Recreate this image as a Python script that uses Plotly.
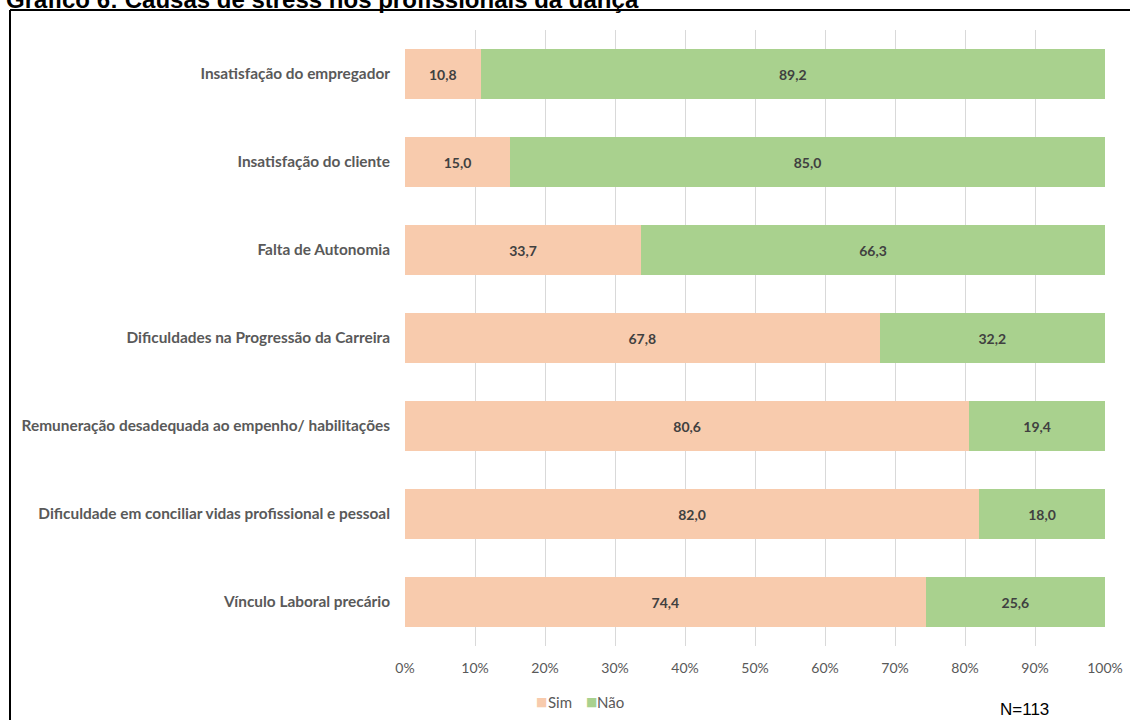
import plotly.graph_objects as go

# Causes of stress among dance professionals (% of respondents, N=113)
categorias = [
    "Insatisfação do empregador",
    "Insatisfação do cliente",
    "Falta de Autonomia",
    "Dificuldades na Progressão da Carreira",
    "Remuneração desadequada ao empenho/ habilitações",
    "Dificuldade em conciliar vidas profissional e pessoal",
    "Vínculo Laboral precário",
]
sim = [10.8, 15.0, 33.7, 67.8, 80.6, 82.0, 74.4]
nao = [89.2, 85.0, 66.3, 32.2, 19.4, 18.0, 25.6]
tick_vals = [0, 10, 20, 30, 40, 50, 60, 70, 80, 90, 100]
tick_text = [f"{v}%" for v in tick_vals]
series = [("Sim", sim, "#F8CBAD"), ("Não", nao, "#A9D18E")]

FONT = "Lato"
W, H = 1130, 720
L, R, T, B = 405, 25, 30, 74
PW, PH = W - L - R, H - T - B


def px_x(x):
    return (x - L) / PW


def px_y(y):
    return (H - B - y) / PH


def fmt(v):
    return f"{v:.1f}".replace(".", ",")


fig = go.Figure()
for nome, vals, cor in series:
    fig.add_trace(go.Bar(
        name=nome, y=categorias, x=vals, orientation="h",
        marker=dict(color=cor, line=dict(width=0)),
        text=[fmt(v) for v in vals], textposition="inside",
        insidetextanchor="middle", textangle=0,
        textfont=dict(family=FONT, size=14, color="#404040", weight="bold"),
        hoverinfo="skip",
    ))

fig.update_layout(
    width=W, height=H, barmode="stack", bargap=0.43,
    margin=dict(l=L, r=R, t=T, b=B, autoexpand=False),
    paper_bgcolor="white", plot_bgcolor="white",
    font=dict(family=FONT, color="#595959"),
    uniformtext=dict(minsize=14, mode="show"),
    xaxis=dict(range=[0, 100], tickvals=tick_vals, ticktext=tick_text,
               showgrid=True, gridcolor="#D9D9D9", gridwidth=1.3,
               zeroline=False, showline=False, ticks="", automargin=False,
               ticklabelstandoff=12,
               tickfont=dict(family=FONT, size=14, color="#595959")),
    yaxis=dict(categoryorder="array", categoryarray=categorias,
               autorange="reversed", showline=False, ticks="",
               automargin=False, ticklabelstandoff=14,
               tickfont=dict(family=FONT, size=15.4, color="#595959", weight="bold")),
    showlegend=False,
)

# Legend keys: coloured square followed by the series name
legend_pos = [(541, 560), (591, 610)]
for (nome, _, cor), (xs, xt) in zip(series, legend_pos):
    fig.add_annotation(text="■", xref="paper", yref="paper",
                       x=px_x(xs), y=px_y(702), xanchor="center", yanchor="middle",
                       showarrow=False, font=dict(family="DejaVu Sans", size=12, color=cor))
    fig.add_annotation(text=nome, xref="paper", yref="paper",
                       x=px_x(xt), y=px_y(702), xanchor="center", yanchor="middle",
                       showarrow=False, font=dict(family=FONT, size=15, color="#595959"))

# Caption, sample size and frame
fig.add_annotation(text="<b>Gráfico 6: Causas de stress nos profissionais da dança</b>",
                   xref="paper", yref="paper", x=px_x(4), y=px_y(15),
                   xanchor="left", yanchor="bottom", showarrow=False,
                   font=dict(family="Liberation Sans", size=24, color="black"))
fig.add_annotation(text="N=113", xref="paper", yref="paper",
                   x=px_x(1024), y=px_y(709), xanchor="center", yanchor="middle",
                   showarrow=False,
                   font=dict(family="Liberation Sans", size=17, color="black"))
fig.add_shape(type="line", xref="paper", yref="paper",
              x0=px_x(10), x1=px_x(1131), y0=px_y(10), y1=px_y(10),
              line=dict(color="black", width=2))
fig.add_shape(type="line", xref="paper", yref="paper",
              x0=px_x(10), x1=px_x(10), y0=px_y(10), y1=px_y(721),
              line=dict(color="black", width=2))

fig.write_html("out.html")
